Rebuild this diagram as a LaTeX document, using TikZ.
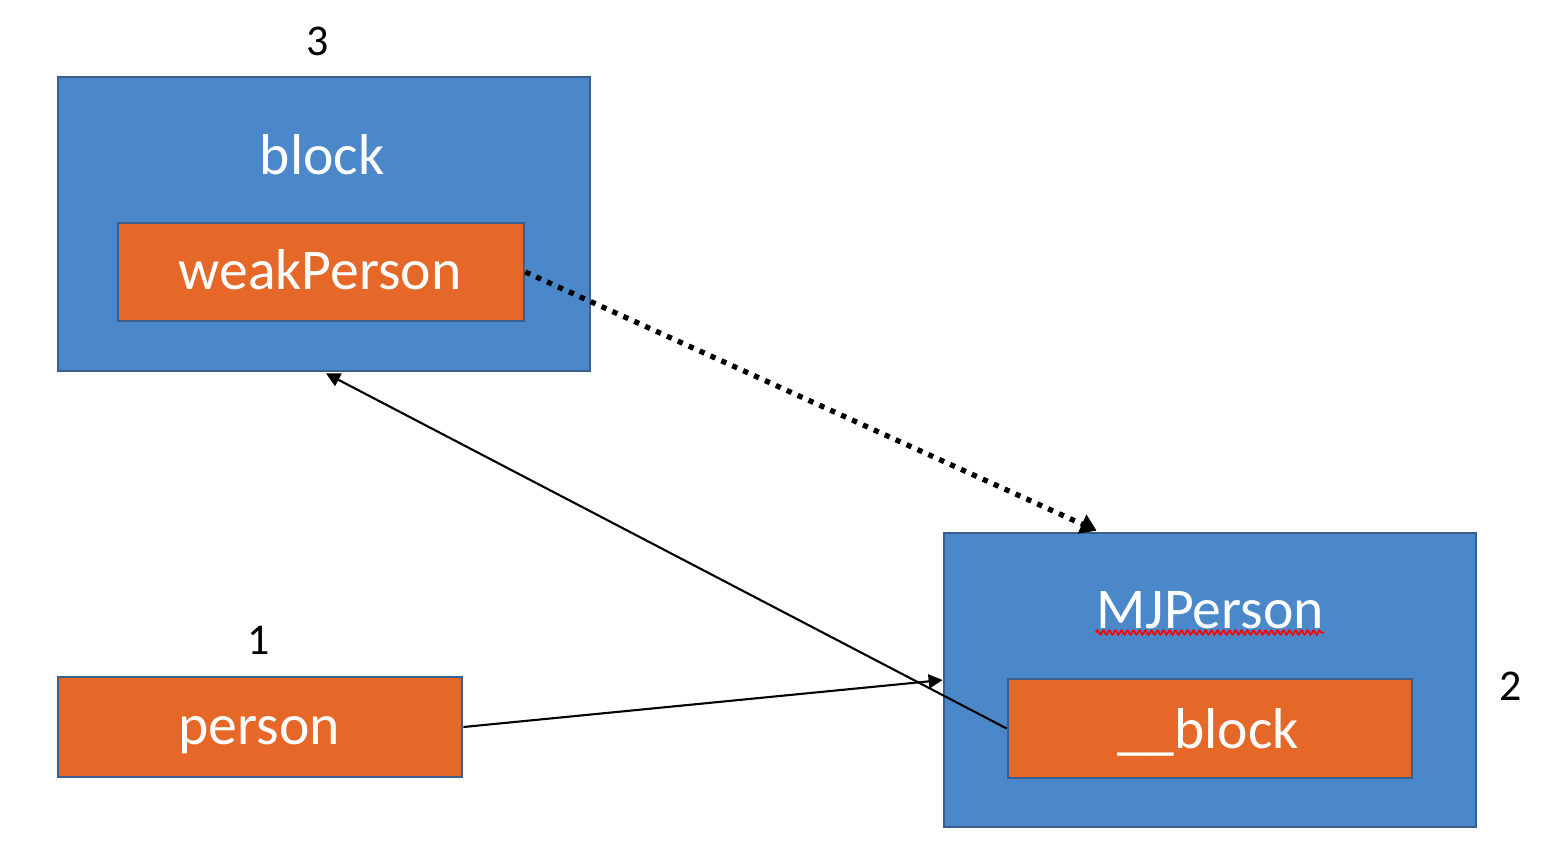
\documentclass[tikz,border=0pt]{standalone}
\usepackage{fontspec}
\setmainfont{Carlito}
\usetikzlibrary{arrows.meta,calc,decorations.pathmorphing}
\definecolor{boxblue}{RGB}{74,136,202}
\definecolor{boxorange}{RGB}{229,104,40}
\definecolor{boxedge}{RGB}{58,95,142}
\tikzset{
  bluebox/.style={draw=boxedge, line width=0.7pt, fill=boxblue, inner sep=0pt},
  orangebox/.style={draw=boxedge, line width=0.7pt, fill=boxorange, inner sep=0pt},
  boxtext/.style={anchor=base, inner sep=0pt, text=white, font=\fontsize{16.4}{19}\selectfont},
  numtext/.style={anchor=base, inner sep=0pt, text=black, font=\fontsize{12.5}{15}\selectfont},
  thinarrow/.style={line width=0.6pt, -{Triangle[length=0.14cm,width=0.14cm]}},
  dotarrow/.style={line width=1.5pt, dash pattern=on 1.5pt off 1.9pt, -{Triangle[length=0.16cm,width=0.2cm]}}
}
\begin{document}
\begin{tikzpicture}[x=0.01cm,y=-0.01cm]
\useasboundingbox (0,0) rectangle (1558,860);
% boxes
\node[bluebox, minimum width=5.32cm, minimum height=2.94cm] (blockbox) at (324,224) {};
\node[orangebox, minimum width=4.06cm, minimum height=0.98cm] (weakbox) at (321,272) {};
\node[orangebox, minimum width=4.04cm, minimum height=1.00cm] (personbox) at (260,727) {};
\node[bluebox, minimum width=5.32cm, minimum height=2.94cm] (mjbox) at (1210,680) {};
\node[orangebox, minimum width=4.04cm, minimum height=0.99cm] (innerblock) at (1210,728.5) {};
% texts
\node[boxtext] (blocktext) at (322,174) {block};
\node[boxtext] (weaktext) at (320,289) {weakPerson};
\node[boxtext] (persontext) at (259,744) {person};
\node[boxtext] (mjtext) at (1210,628) {MJPerson};
\node[boxtext] (innertext) at (1208,748) {\_\_block};
\node[numtext] (n3) at (318,55) {3};
\node[numtext] (n1) at (259,654) {1};
\node[numtext] (n2) at (1511,700) {2};
% spell-check underline
\draw[red, line width=0.5pt, decorate, decoration={snake, amplitude=0.022cm, segment length=0.06cm}]
  ([yshift=-0.045cm]mjtext.base west) -- ([yshift=-0.045cm]mjtext.base east);
% connectors
\draw[thinarrow] (personbox.east) -- (mjbox.west);
\draw[thinarrow] (innerblock.west) -- ([xshift=0.02cm,yshift=-0.01cm]blockbox.south);
\draw[dotarrow] (weakbox.east) -- ($(mjbox.north west)+(154,-1)$);
\end{tikzpicture}
\end{document}
